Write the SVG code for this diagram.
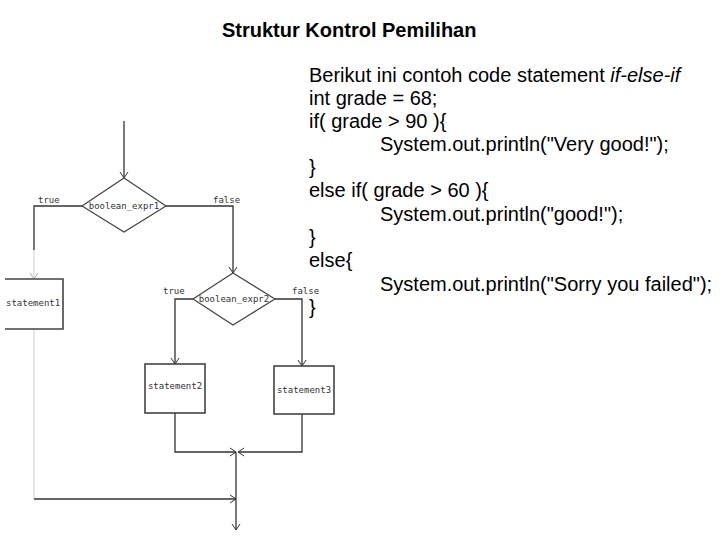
<svg xmlns="http://www.w3.org/2000/svg" width="720" height="540" viewBox="0 0 720 540">
<style>
.t{font-family:"Liberation Sans",Arial,sans-serif;font-size:20px;fill:#000}
.tb{font-family:"Liberation Sans",Arial,sans-serif;font-size:20px;font-weight:bold;fill:#000}
.s{font-family:"DejaVu Sans Mono","Liberation Mono",monospace;font-size:9px;fill:#333}
.c{fill:none;stroke:#333;stroke-width:1.3}
.cl{fill:none;stroke:#d8d8d8;stroke-width:1.3}
.n{fill:#fff;stroke:#444;stroke-width:1.2}
.b{fill:#fff;stroke:#444;stroke-width:1.6}
</style>
<defs>
<marker id="a" viewBox="0 0 8 10" refX="7" refY="5" markerWidth="8" markerHeight="10" markerUnits="userSpaceOnUse" orient="auto">
<path d="M1,1 L7,5 L1,9" fill="none" stroke="#333" stroke-width="1"/>
</marker>
<marker id="al" viewBox="0 0 8 10" refX="7" refY="5" markerWidth="8" markerHeight="10" markerUnits="userSpaceOnUse" orient="auto">
<path d="M1,1 L7,5 L1,9" fill="none" stroke="#aaa" stroke-width="1"/>
</marker>
</defs>
<rect width="720" height="540" fill="#fff"/>
<text class="tb" x="222" y="37">Struktur Kontrol Pemilihan</text>
<g id="code">
<text class="t" x="309" y="82">Berikut ini contoh code statement <tspan font-style="italic">if-else-if</tspan></text>
<text class="t" x="309" y="105">int grade = 68;</text>
<text class="t" x="309" y="128">if( grade &gt; 90 ){</text>
<text class="t" x="380" y="151">System.out.println("Very good!");</text>
<text class="t" x="309" y="174">}</text>
<text class="t" x="309" y="197">else if( grade &gt; 60 ){</text>
<text class="t" x="380" y="221">System.out.println("good!");</text>
<text class="t" x="309" y="244">}</text>
<text class="t" x="309" y="267">else{</text>
<text class="t" x="380" y="291">System.out.println("Sorry you failed");</text>
<text class="t" x="309" y="314">}</text>
</g>
<g id="connectors">
<path class="c" d="M124,121 V178" marker-end="url(#a)"/>
<path class="c" d="M82,206 H34 V250"/>
<path class="cl" d="M34,250 V279" marker-end="url(#al)"/>
<path class="c" d="M166,206 H233 V273" marker-end="url(#a)"/>
<path class="c" d="M193,299 H175 V364" marker-end="url(#a)"/>
<path class="c" d="M275,299 H302 V366" marker-end="url(#a)"/>
<path class="cl" d="M34,329 V499"/>
<path class="c" d="M34,499 H236" marker-end="url(#a)"/>
<path class="c" d="M175,413 V452 H236" marker-end="url(#a)"/>
<path class="c" d="M302,414 V452 H238" marker-end="url(#a)"/>
<path class="c" d="M236,452 V530" marker-end="url(#a)"/>
<text class="s" x="38" y="203">true</text>
<text class="s" x="213" y="203">false</text>
<text class="s" x="163" y="294">true</text>
<text class="s" x="292" y="294">false</text>
</g>
<g id="decision1">
<polygon class="n" points="124,178 166,206 124,232 82,206"/>
<text class="s" x="124" y="209" text-anchor="middle" font-size="10">boolean_expr1</text>
</g>
<g id="decision2">
<polygon class="n" points="233,273 275,299 233,325 193,299"/>
<text class="s" x="234" y="302" text-anchor="middle" font-size="10">boolean_expr2</text>
</g>
<g id="statement1">
<path class="b" d="M5,279 H63 V329 H5"/>
<text class="s" x="6" y="306">statement1</text>
</g>
<g id="statement2">
<rect class="b" x="145" y="364" width="60" height="49"/>
<text class="s" x="175" y="389" text-anchor="middle">statement2</text>
</g>
<g id="statement3">
<rect class="b" x="274" y="366" width="60" height="48"/>
<text class="s" x="304" y="393" text-anchor="middle">statement3</text>
</g>
</svg>
